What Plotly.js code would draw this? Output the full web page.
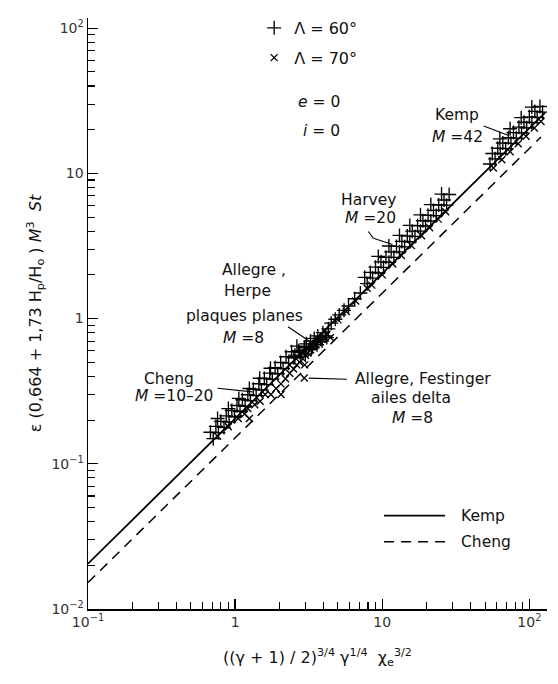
<!DOCTYPE html>
<html><head><meta charset="utf-8">
<script src="https://cdn.plot.ly/plotly-3.0.1.min.js"></script>
<style>html,body{margin:0;padding:0;background:#fff}#chart{width:558px;height:684px}</style>
</head><body><div id="chart"></div>
<script>
// ---- data ----
const lambda60X = [
  0.68, 0.74, 0.80, 0.87, 0.95, 1.03, 1.12, 1.22, 1.33, 1.45, 1.58, 1.72, 1.87, 2.04, 2.22, 2.42, 2.63,
  0.71, 0.77, 0.84, 0.91, 0.99, 1.08, 1.17, 1.27, 1.39, 1.51, 1.64, 1.79, 1.95, 2.12, 2.31, 2.51, 2.74, 2.98,
  0.76, 0.90, 1.06, 1.25, 1.47, 1.74,
  2.55, 2.70, 2.80, 2.95, 3.05, 3.15, 3.25, 3.35, 3.45, 3.55, 3.65, 3.80, 3.95, 4.10, 4.30, 3.00, 3.30, 3.60, 3.90, 4.20,
  4.5, 4.8, 5.1, 5.5, 5.9, 6.5, 7.1,
  7.6, 8.3, 9.0, 9.8, 10.6, 11.5, 12.5, 13.6, 14.8, 16.0, 17.4, 18.9, 20.5, 22.3, 24.2, 26.3, 28.5,
  7.9, 8.6, 9.4, 10.2, 11.1, 12.0, 13.1, 14.2, 15.4, 16.7, 18.2, 19.7, 21.4, 23.3, 25.3, 27.4,
  9.4, 11.1, 13.1, 15.4, 18.2, 21.4, 25.3,
  56, 61, 66, 72, 78, 85, 92, 100, 109, 118,
  54, 58.5, 63.5, 69, 75, 81.5, 88.5, 96, 104, 113, 123,
  63, 74, 88, 104
];
const lambda60Y = [
  0.165, 0.181, 0.196, 0.214, 0.233, 0.252, 0.276, 0.299, 0.326, 0.356, 0.387, 0.421, 0.459, 0.498, 0.546, 0.591, 0.646,
  0.149, 0.164, 0.178, 0.194, 0.211, 0.229, 0.249, 0.272, 0.295, 0.322, 0.351, 0.383, 0.417, 0.452, 0.493, 0.537, 0.586, 0.638,
  0.205, 0.240, 0.282, 0.330, 0.388, 0.455,
  0.56, 0.60, 0.55, 0.63, 0.67, 0.61, 0.70, 0.64, 0.73, 0.68, 0.76, 0.72, 0.80, 0.76, 0.85, 0.57, 0.62, 0.66, 0.70, 0.74,
  0.93, 0.99, 1.06, 1.14, 1.22, 1.37, 1.50,
  1.92, 2.08, 2.26, 2.46, 2.64, 2.88, 3.14, 3.40, 3.70, 4.00, 4.36, 4.72, 5.14, 5.56, 6.06, 6.56, 7.15,
  1.74, 1.90, 2.06, 2.25, 2.44, 2.64, 2.88, 3.12, 3.38, 3.68, 4.00, 4.34, 4.70, 5.12, 5.56, 6.04,
  2.68, 3.16, 3.74, 4.38, 5.18, 6.10, 7.20,
  13.7, 14.9, 16.2, 17.6, 19.1, 20.8, 22.5, 24.5, 26.7, 28.9,
  11.6, 12.6, 13.7, 14.8, 16.1, 17.5, 19.0, 20.6, 22.4, 24.3, 26.4,
  17.3, 20.3, 24.2, 28.6
];
const lambda70X = [
  0.76, 0.90, 1.05, 1.16, 1.25, 1.22, 1.36, 1.48, 1.60, 1.75, 1.90, 2.05, 2.20, 2.35,
  2.50, 2.62, 2.75, 2.88, 3.00, 3.12, 3.26, 3.40, 3.55, 3.70, 3.85, 4.00, 4.20, 4.45,
  2.95, 2.97, 2.05,
  5.0, 5.7, 6.6, 7.9,
  8.5, 10, 11.8, 13.5, 15.8, 18.5, 21, 24, 27,
  57, 65, 74, 84, 95, 108, 120
];
const lambda70Y = [
  0.155, 0.180, 0.205, 0.220, 0.205, 0.240, 0.255, 0.270, 0.300, 0.300, 0.330, 0.355, 0.385, 0.420,
  0.45, 0.48, 0.50, 0.53, 0.56, 0.58, 0.61, 0.64, 0.66, 0.70, 0.72, 0.75, 0.78, 0.74,
  0.39, 0.48, 0.30,
  0.98, 1.12, 1.32, 1.62,
  1.70, 2.00, 2.38, 2.72, 3.18, 3.72, 4.22, 4.84, 5.45,
  10.9, 12.4, 14.1, 16.0, 18.0, 20.5, 22.8
];
const kempX = [0.1, 128];
const kempY = [0.0205, 26.2];
const chengX = [0.1, 120];
const chengY = [0.0152, 17.8];

const xTickVals = [0.1, 1, 10, 100];
const xTickText = ['10<sup>−1</sup>', '1', '10', '10<sup>2</sup>'];
const yTickVals = [0.01, 0.1, 1, 10, 100];
const yTickText = ['10<sup>−2</sup>', '10<sup>−1</sup>', '1', '10', '10<sup>2</sup>'];

const seriesNames = ['Λ = 60°', 'Λ = 70°', 'Kemp', 'Cheng'];

// ---- drawing ----
const FONT = 'DejaVu Sans, Liberation Sans, sans-serif';
const ink = '#000';

const traces = [
  {x: kempX, y: kempY, mode: 'lines', name: seriesNames[2], showlegend: false,
   line: {color: ink, width: 1.8}},
  {x: chengX, y: chengY, mode: 'lines', name: seriesNames[3], showlegend: false,
   line: {color: ink, width: 1.5, dash: '10px,7px'}},
  {x: lambda60X, y: lambda60Y, mode: 'markers', name: seriesNames[0], legendgroup: 'a',
   marker: {symbol: 'cross-thin-open', size: 10, color: ink, line: {color: ink, width: 1.35}}},
  {x: lambda70X, y: lambda70Y, mode: 'markers', name: seriesNames[1], legendgroup: 'b',
   marker: {symbol: 'x-thin-open', size: 7, color: ink, line: {color: ink, width: 1.35}}}
];

const lf = {family: FONT, size: 15.5, color: '#111'};
function txt(text, lx, ly, anchor) {
  return {xref: 'x', yref: 'y', x: lx, y: ly, text: text, showarrow: false,
          xanchor: anchor || 'center', yanchor: 'middle', font: lf};
}
// leader lines: shapes on log axes take data values
function leader(x0, y0, x1, y1) {
  return {type: 'line', xref: 'x', yref: 'y', x0: x0, y0: y0, x1: x1, y1: y1,
          line: {color: ink, width: 1.1}};
}

const annotations = [
  txt('<i>e</i> = 0', 0.724, 1.49, 'right'),
  txt('<i>i</i> = 0', 0.724, 1.293, 'right'),
  txt('Kemp', 1.505, 1.404),
  txt('<i>M</i> =42', 1.51, 1.249),
  txt('Harvey', 0.905, 0.816),
  txt('<i>M</i> =20', 0.92, 0.693),
  txt('Allegre ,', 0.125, 0.338),
  txt('Herpe', 0.082, 0.193),
  txt('plaques planes', 0.063, 0.018),
  txt('<i>M</i> =8', 0.058, -0.131),
  txt('Cheng', -0.45, -0.418),
  txt('<i>M</i> =10–20', -0.414, -0.533),
  txt('Allegre, Festinger', 1.28, -0.418),
  txt('ailes delta', 1.196, -0.545),
  txt('<i>M</i> =8', 1.208, -0.683),
  {xref: 'paper', yref: 'paper', x: 0.808, y: 0.158, xanchor: 'left', yanchor: 'middle',
   text: seriesNames[2], showarrow: false, font: lf},
  {xref: 'paper', yref: 'paper', x: 0.808, y: 0.114, xanchor: 'left', yanchor: 'middle',
   text: seriesNames[3], showarrow: false, font: lf}
];

const shapes = [
  leader(49, 21.2, 72.4, 18.2),
  leader(8.04, 3.98, 8.71, 3.57),
  leader(8.71, 3.57, 11.75, 3.24),
  leader(2.29, 0.879, 3.31, 0.681),
  leader(0.759, 0.331, 1.31, 0.313),
  leader(3.16, 0.389, 5.75, 0.382),
  {type: 'line', xref: 'paper', yref: 'paper', x0: 0.645, x1: 0.778, y0: 0.158, y1: 0.158,
   line: {color: ink, width: 1.8}},
  {type: 'line', xref: 'paper', yref: 'paper', x0: 0.645, x1: 0.778, y0: 0.114, y1: 0.114,
   line: {color: ink, width: 1.5, dash: '10px,7px'}}
];

const axisCommon = {
  type: 'log', showline: true, linecolor: '#000', linewidth: 1.5, mirror: false,
  showgrid: false, zeroline: false, ticks: 'inside', ticklen: 10, tickwidth: 1.3, tickcolor: '#000',
  tickmode: 'array', automargin: false,
  tickfont: {family: FONT, size: 14, color: '#333'},
  minor: {dtick: 'D1', ticks: 'inside', ticklen: 7, tickwidth: 1.1, tickcolor: '#000', showgrid: false}
};

const layout = {
  width: 558, height: 684,
  margin: {l: 88, r: 11, t: 13, b: 75},
  paper_bgcolor: '#fff', plot_bgcolor: '#fff',
  font: {family: FONT, color: '#111'},
  showlegend: true,
  legend: {x: 0.362, y: 1.012, xanchor: 'left', yanchor: 'top', bgcolor: 'rgba(0,0,0,0)',
           font: {family: FONT, size: 16, color: '#111'}, traceorder: 'grouped', tracegroupgap: 6},
  xaxis: Object.assign({}, axisCommon, {
    range: [-1, 2.12], tickvals: xTickVals, ticktext: xTickText,
    title: {text: '((γ + 1) / 2)<sup>3/4</sup> γ<sup>1/4</sup>  χ<sub>e</sub><sup>3/2</sup>',
            font: {family: FONT, size: 16, color: '#111'}, standoff: 22}
  }),
  yaxis: Object.assign({}, axisCommon, {
    range: [-2, 2.07], tickvals: yTickVals, ticktext: yTickText,
    title: {text: 'ε (0,664 + 1,73 H<sub>p</sub>/H<sub>o</sub> ) <i>M</i><sup>3</sup>  <i>St</i>',
            font: {family: FONT, size: 16, color: '#111'}, standoff: 6}
  }),
  annotations: annotations,
  shapes: shapes
};

Plotly.newPlot('chart', traces, layout, {staticPlot: true, displayModeBar: false});
</script>
</body></html>
